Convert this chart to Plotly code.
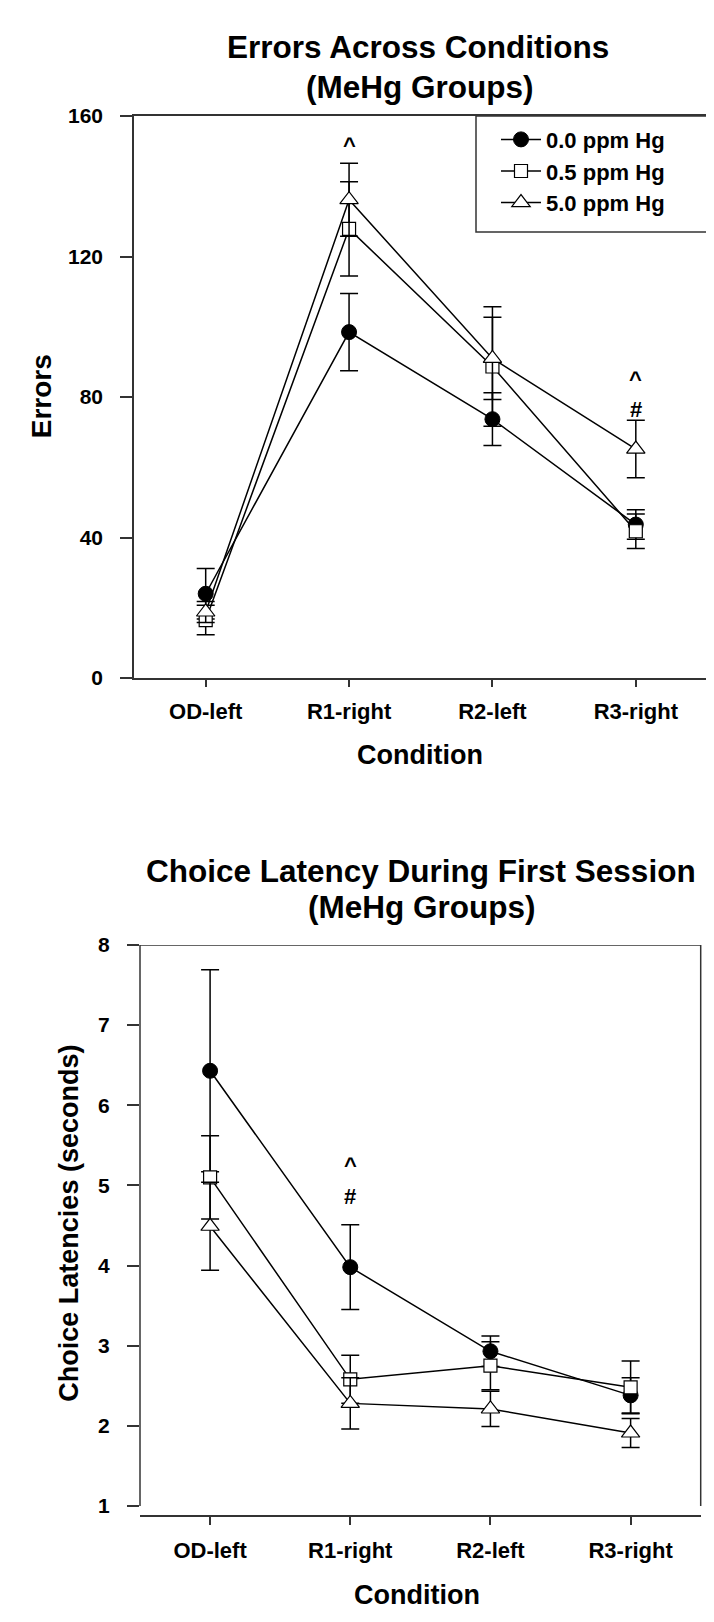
import plotly.graph_objects as go

# ---------------- data ----------------
conditions = ["OD-left", "R1-right", "R2-left", "R3-right"]
groups = ["0.0 ppm Hg", "0.5 ppm Hg", "5.0 ppm Hg"]

errors_00 = [24.0, 98.5, 73.7, 43.7]
errors_00_se = [7.2, 11.0, 7.5, 4.2]
errors_05 = [16.5, 127.9, 88.7, 41.8]
errors_05_se = [4.2, 13.4, 17.0, 4.9]
errors_50 = [18.8, 136.2, 91.0, 65.2]
errors_50_se = [3.0, 10.4, 11.7, 8.2]

latency_00 = [6.43, 3.98, 2.93, 2.38]
latency_00_se = [1.26, 0.53, 0.19, 0.22]
latency_05 = [5.10, 2.58, 2.75, 2.48]
latency_05_se = [0.52, 0.30, 0.30, 0.33]
latency_50 = [4.49, 2.28, 2.21, 1.91]
latency_50_se = [0.55, 0.32, 0.22, 0.18]

errors_ticks = [0, 40, 80, 120, 160]
latency_ticks = [1, 2, 3, 4, 5, 6, 7, 8]

# significance marks: (condition, value, symbol)
errors_marks = [("R1-right", 153.0, "^"), ("R3-right", 86.3, "^"), ("R3-right", 76.5, "#")]
latency_marks = [("R1-right", 5.31, "^"), ("R1-right", 4.86, "#")]

# ---------------- layout helpers ----------------
W, H = 714, 1622
FONT = "Liberation Sans, Arial, sans-serif"


def px_x(x):
    return x / W


def px_y(y):
    return 1 - y / H


marker_styles = [
    dict(symbol="circle", size=15, color="black", line=dict(color="black", width=1)),
    dict(symbol="square", size=13, color="white", line=dict(color="black", width=1.2)),
    dict(symbol="triangle-up", size=16, color="white", line=dict(color="black", width=1.2)),
]

fig = go.Figure()

err_series = [(errors_00, errors_00_se), (errors_05, errors_05_se), (errors_50, errors_50_se)]
lat_series = [(latency_00, latency_00_se), (latency_05, latency_05_se), (latency_50, latency_50_se)]

for i, (vals, se) in enumerate(err_series):
    fig.add_trace(go.Scatter(
        x=conditions, y=vals, mode="lines+markers", name=groups[i],
        line=dict(color="black", width=1.5), marker=marker_styles[i],
        error_y=dict(type="data", array=se, visible=True, color="black", thickness=1.5, width=9),
        xaxis="x", yaxis="y", showlegend=True, cliponaxis=False,
    ))

for i, (vals, se) in enumerate(lat_series):
    fig.add_trace(go.Scatter(
        x=conditions, y=vals, mode="lines+markers", name=groups[i],
        line=dict(color="black", width=1.5), marker=marker_styles[i],
        error_y=dict(type="data", array=se, visible=True, color="black", thickness=1.5, width=9),
        xaxis="x2", yaxis="y2", showlegend=False, cliponaxis=False,
    ))

axis_color = "#333333"
ytickfont = dict(family=FONT, size=21, color="black", weight="bold")
xtickfont = dict(family=FONT, size=22, color="black", weight="bold")

fig.update_layout(
    width=W, height=H,
    margin=dict(l=0, r=0, t=0, b=0),
    paper_bgcolor="white", plot_bgcolor="white",
    font=dict(family=FONT, color="black"),
    xaxis=dict(
        domain=[px_x(126), px_x(699.5)], anchor="y", type="category",
        range=[-0.5, 3.5], showline=True, linecolor=axis_color, linewidth=1.5, mirror=True,
        ticks="outside", ticklen=7, tickwidth=1.5, tickcolor=axis_color,
        tickfont=xtickfont, showgrid=False, zeroline=False, ticklabelstandoff=6,
    ),
    yaxis=dict(
        domain=[px_y(667.5), px_y(97.5)], anchor="x", range=[0, 160],
        tickvals=errors_ticks, showline=True, linecolor=axis_color, linewidth=1.5, mirror=True,
        ticks="outside", ticklen=12, tickwidth=1.5, tickcolor=axis_color,
        tickfont=ytickfont, showgrid=False, zeroline=False, ticklabelstandoff=13,
    ),
    xaxis2=dict(
        domain=[px_x(132), px_x(692.7)], anchor="y2", type="category",
        range=[-0.5, 3.5], showline=True, linecolor=axis_color, linewidth=1.5, mirror=False,
        ticks="outside", ticklen=8, tickwidth=1.5, tickcolor=axis_color,
        tickfont=xtickfont, showgrid=False, zeroline=False, ticklabelstandoff=6,
    ),
    yaxis2=dict(
        domain=[px_y(1517), px_y(938.3)], anchor="x2", range=[0.881, 8],
        tickvals=latency_ticks, showline=False,
        ticks="outside", ticklen=12, tickwidth=1.5, tickcolor=axis_color,
        tickfont=ytickfont, showgrid=False, zeroline=False, ticklabelstandoff=13,
    ),
    legend=dict(
        x=px_x(488), y=px_y(100), xanchor="left", yanchor="top",
        bgcolor="rgba(0,0,0,0)", borderwidth=0,
        font=dict(family=FONT, size=22, color="black", weight="bold"),
        itemwidth=40, tracegroupgap=0,
    ),
)

shapes = [
    # legend frame
    dict(type="rect", xref="paper", yref="paper",
         x0=px_x(468), x1=px_x(699.5), y0=px_y(215), y1=px_y(97.5),
         line=dict(color=axis_color, width=1.5), fillcolor="white", layer="below"),
    # bottom chart frame (offset x axis)
    dict(type="line", xref="x2 domain", yref="y2", x0=0, x1=0, y0=1, y1=8,
         line=dict(color=axis_color, width=1.5)),
    dict(type="line", xref="x2 domain", yref="y2", x0=1, x1=1, y0=1, y1=8,
         line=dict(color=axis_color, width=1.5)),
    dict(type="line", xref="x2 domain", yref="y2", x0=0, x1=1, y0=8, y1=8,
         line=dict(color=axis_color, width=1.5)),
]
fig.update_layout(shapes=shapes)

title_font = dict(family=FONT, size=31.5, color="black", weight="bold")
axis_title_font = dict(family=FONT, size=27, color="black", weight="bold")

annotations = [
    dict(text="Errors Across Conditions", x=px_x(410), y=px_y(27), font=title_font),
    dict(text="(MeHg Groups)", x=px_x(412), y=px_y(67.5), font=title_font),
    dict(text="Choice Latency During First Session", x=px_x(413), y=px_y(863), font=title_font),
    dict(text="(MeHg Groups)", x=px_x(413), y=px_y(900), font=title_font),
    dict(text="Errors", x=px_x(33), y=px_y(381.7), font=dict(axis_title_font, size=28), textangle=-90),
    dict(text="Condition", x=px_x(412), y=px_y(746), font=axis_title_font),
    dict(text="Choice Latencies (seconds)", x=px_x(61), y=px_y(1221), font=axis_title_font, textangle=-90),
    dict(text="Condition", x=px_x(409), y=px_y(1598), font=axis_title_font),
]
for a in annotations:
    a.update(xref="paper", yref="paper", showarrow=False, xanchor="center", yanchor="middle")

mark_font = dict(family=FONT, size=22, color="black", weight="bold")
for cond, val, sym in errors_marks:
    annotations.append(dict(text=sym, x=cond, y=val, xref="x", yref="y", showarrow=False,
                            font=mark_font, yanchor="middle", yshift=-5 if sym == "^" else 0))
for cond, val, sym in latency_marks:
    annotations.append(dict(text=sym, x=cond, y=val, xref="x2", yref="y2", showarrow=False,
                            font=mark_font, yanchor="middle", yshift=-5 if sym == "^" else 0))

fig.update_layout(annotations=annotations)

fig.write_html("out.html")
